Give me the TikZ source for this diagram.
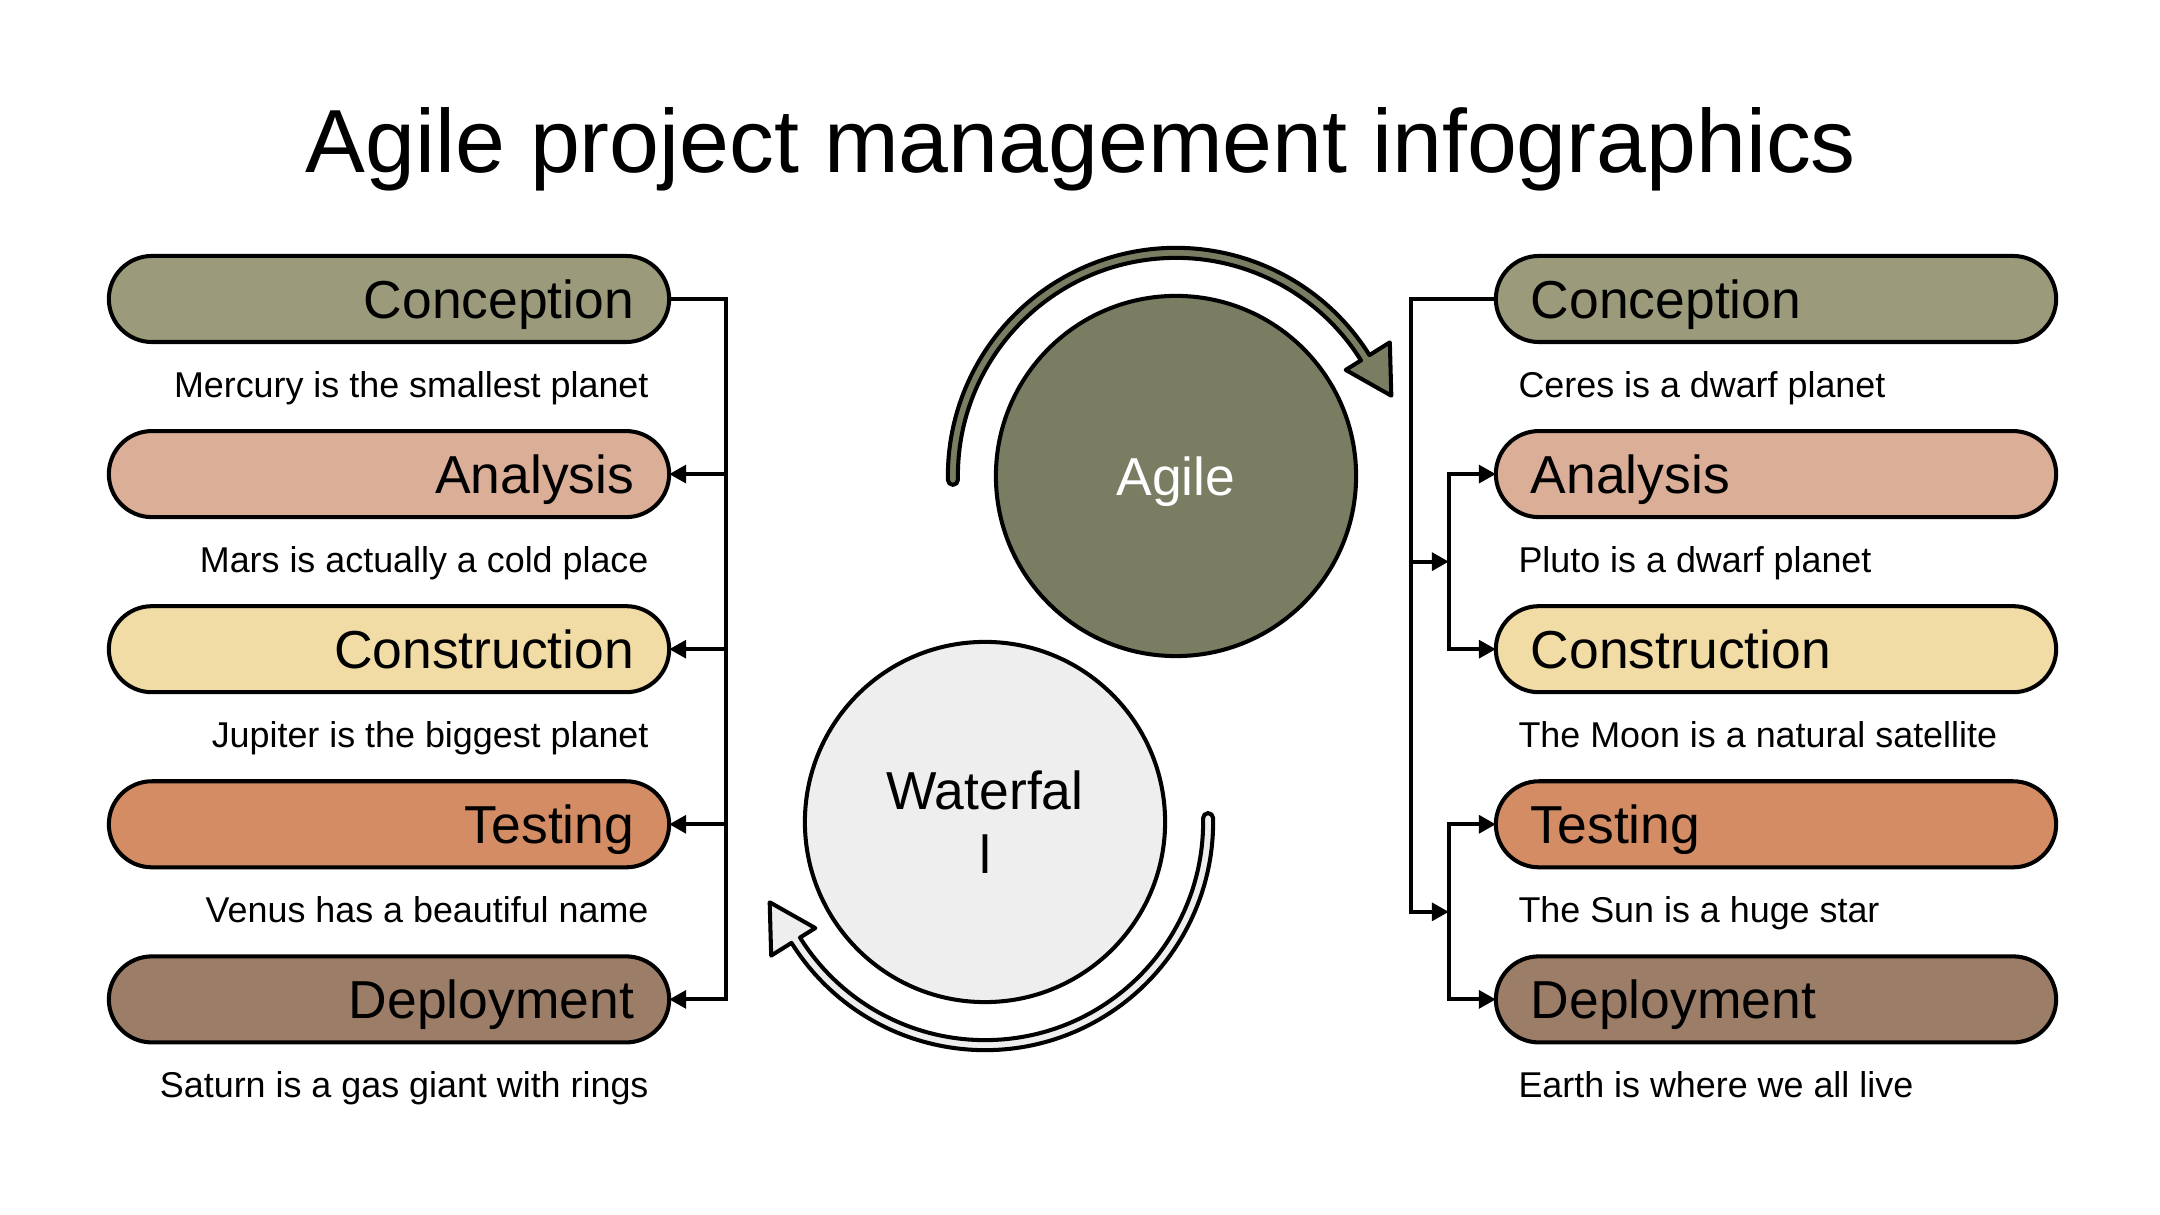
\documentclass[tikz,border=0pt]{standalone}
\usepackage{fontspec}
\setmainfont{Liberation Sans}
\usetikzlibrary{positioning,calc,arrows.meta}

\definecolor{conceptcol}{HTML}{9B9B7B}
\definecolor{analysiscol}{HTML}{DBAE97}
\definecolor{constructcol}{HTML}{F2DCA6}
\definecolor{testcol}{HTML}{D38C63}
\definecolor{deploycol}{HTML}{9C7E68}
\definecolor{agilecol}{HTML}{7A7D62}
\definecolor{watercol}{HTML}{EEEEEE}

\tikzset{
  title/.style={inner sep=0pt, font=\fontsize{25.5}{30}\selectfont},
  pill/.style={draw, line width=1.15pt, rounded corners=0.43cm,
    minimum width=5.6cm, minimum height=0.86cm, outer sep=0pt,
    inner xsep=0.35cm, text width=4.9cm, text height=11pt, text depth=0pt,
    font=\fontsize{15.2}{18.2}\selectfont},
  desc/.style={inner sep=0pt, text height=7.4pt, text depth=0pt,
    font=\fontsize{10.2}{12}\selectfont},
  phase/.style={circle, draw, line width=1.15pt, minimum size=3.6cm,
    inner sep=0pt, align=center, font=\fontsize{15.2}{18.2}\selectfont},
  link/.style={line width=1.15pt},
  flow/.style={link, -{Triangle[length=4.8pt,width=5pt]}},
  looparr/.style={draw, line width=1.15pt, line join=round}
}

% circular arrow round a phase circle: #1 node, #2 tail angle, #3 head angle, #4 fill
\newcommand{\phasearrow}[4]{%
  \path[looparr, fill=#4]
    ($(#1.center)+(#3:2.28cm)$) arc[start angle=#3, end angle=#2, radius=2.28cm]
    arc[start angle=#2, end angle={#2+180}, radius=0.05cm]
    arc[start angle=#2, end angle=#3, radius=2.18cm]
    -- ($(#1.center)+(#3:2.0cm)$)
    -- ($(#1.center)+(#3:2.25cm)+({#3-90}:0.46cm)$)
    -- ($(#1.center)+(#3:2.52cm)$) -- cycle;}

\begin{document}
\begin{tikzpicture}[x=0.01cm, y=0.01cm, node distance=0.89cm]
  \useasboundingbox (0,0) rectangle (2160,1215);

  % ── Title ─────────────────────────────────────────────────────
  \node[title, anchor=base] (title) at (1081,1042) {Agile project management infographics};

  % ── Left column: Agile phases ────────────────────────────────
  \node[pill, fill=conceptcol, align=right]                 (lc) at (389,916) {Conception};
  \node[pill, fill=analysiscol, align=right, below=of lc]   (la) {Analysis};
  \node[pill, fill=constructcol, align=right, below=of la]  (lk) {Construction};
  \node[pill, fill=testcol, align=right, below=of lk]       (lt) {Testing};
  \node[pill, fill=deploycol, align=right, below=of lt]     (ld) {Deployment};

  \node[desc, anchor=east] (lcd) at ([shift={(-20,-42)}]lc.south east) {Mercury is the smallest planet};
  \node[desc, anchor=east] (lad) at ([shift={(-20,-42)}]la.south east) {Mars is actually a cold place};
  \node[desc, anchor=east] (lkd) at ([shift={(-20,-42)}]lk.south east) {Jupiter is the biggest planet};
  \node[desc, anchor=east] (ltd) at ([shift={(-20,-42)}]lt.south east) {Venus has a beautiful name};
  \node[desc, anchor=east] (ldd) at ([shift={(-20,-42)}]ld.south east) {Saturn is a gas giant with rings};

  % ── Right column: Waterfall phases ───────────────────────────
  \node[pill, fill=conceptcol, align=left]                  (rc) at (1776,916) {Conception};
  \node[pill, fill=analysiscol, align=left, below=of rc]    (ra) {Analysis};
  \node[pill, fill=constructcol, align=left, below=of ra]   (rk) {Construction};
  \node[pill, fill=testcol, align=left, below=of rk]        (rt) {Testing};
  \node[pill, fill=deploycol, align=left, below=of rt]      (rd) {Deployment};

  \node[desc, anchor=west] (rcd) at ([shift={(22,-42)}]rc.south west) {Ceres is a dwarf planet};
  \node[desc, anchor=west] (rad) at ([shift={(22,-42)}]ra.south west) {Pluto is a dwarf planet};
  \node[desc, anchor=west] (rkd) at ([shift={(22,-42)}]rk.south west) {The Moon is a natural satellite};
  \node[desc, anchor=west] (rtd) at ([shift={(22,-42)}]rt.south west) {The Sun is a huge star};
  \node[desc, anchor=west] (rdd) at ([shift={(22,-42)}]rd.south west) {Earth is where we all live};

  % ── Centre: the two methods ──────────────────────────────────
  \node[phase, fill=agilecol, text=white, text depth=0pt] (agile) at (1176,739) {Agile};
  \node[phase, fill=watercol]                             (water) at (985,393) {Waterfal\\l};

  \phasearrow{agile}{181}{32}{agilecol}
  \phasearrow{water}{1}{-148}{watercol}

  % ── Left connectors (one trunk, arrows into every phase) ─────
  \coordinate (ltrunk) at ($(lc.east)+(57,0)$);
  \draw[flow] (lc.east) -- (ltrunk) |- (ld.east);
  \foreach \p in {la,lk,lt}
    \draw[flow] (ltrunk |- \p.east) -- (\p.east);

  % ── Right connectors (trunk with two forks) ──────────────────
  \coordinate (rtrunk) at ($(rc.west)+(-85,0)$);
  \coordinate (rfork1) at ($(ra.west)!0.5!(rk.west)+(-47,0)$);
  \coordinate (rfork2) at ($(rt.west)!0.5!(rd.west)+(-47,0)$);

  \draw[flow] (rc.west) -- (rtrunk) |- (rfork2);
  \draw[flow] (rtrunk |- rfork1) -- (rfork1);

  \draw[flow] (rfork1) |- (ra.west);
  \draw[flow] (rfork1) |- (rk.west);
  \draw[flow] (rfork2) |- (rt.west);
  \draw[flow] (rfork2) |- (rd.west);

\end{tikzpicture}
\end{document}
